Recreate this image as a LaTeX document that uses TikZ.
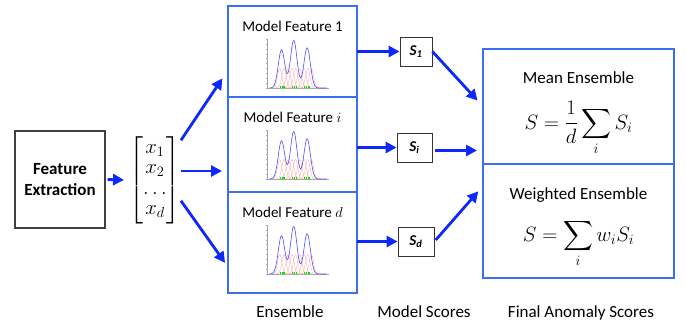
\documentclass[tikz,border=0pt]{standalone}
\usepackage{amsmath}
\usepackage{fontspec}
\setmainfont{Carlito}
\usepackage{tikz}
\usetikzlibrary{calc}
\usetikzlibrary{positioning}
\usetikzlibrary{arrows.meta}

\definecolor{flowblue}{RGB}{15,40,250}
\definecolor{boxblue}{RGB}{60,110,240}

\begin{document}
\begin{tikzpicture}[x=1pt, y=-1pt, >={Triangle[length=11pt,width=11pt]}]
\tikzset{
  flow/.style={flowblue, line width=2.8pt, ->},
  featbox/.style={draw=boxblue, line width=2pt, outer sep=0pt, inner sep=0pt, minimum width=129pt},
  finbox/.style={draw=boxblue, line width=2pt, outer sep=0pt, inner sep=0pt, minimum width=191pt},
  scorebox/.style={draw=black!80, line width=0.8pt, inner sep=0pt, minimum width=32pt, minimum height=29pt, font=\fontsize{15}{18}\selectfont\bfseries\itshape},
  lbl/.style={font=\fontsize{17}{20}\selectfont, anchor=base, inner sep=1pt},
  eq/.style={font=\fontsize{20}{24}\selectfont, anchor=base, inner sep=0pt},
}
\useasboundingbox (0,0) rectangle (686,327);

\node[draw=black!75, line width=1.2pt, minimum width=90pt, minimum height=97pt, align=center, font=\fontsize{17}{20.5}\selectfont\bfseries] (fe) at (60,179.5) {Feature\\Extraction};
\node[inner sep=0pt, font=\fontsize{20}{20.5}\selectfont] (vec) at (155,180) {$\begin{bmatrix}x_1\\x_2\\\ldots\\x_d\end{bmatrix}$};

% ensemble of models
\node[featbox, minimum height=91pt] (mf1) at (292.5,51.5) {};
\node[featbox, minimum height=95pt, below=0pt of mf1] (mf2) {};
\node[featbox, minimum height=101pt, below=0pt of mf2] (mf3) {};

\foreach \n / \t in {1/1, 2/$i$, 3/$d$} {
  \node[anchor=base, font=\fontsize{15}{18}\selectfont] (title\n) at ([yshift=-25.5pt]mf\n.north) {Model Feature \t};
  \begin{scope}[shift={($(mf\n.north)+(-25,82)$)}, x=61pt, y=49pt]
    \draw[black!35, line width=0.3pt] (0,1) -- (0,0) -- (1,0);
    \foreach \k in {0,0.1,...,1.01}
      \draw[black!35, line width=0.3pt] (\k,0) -- (\k,-0.03) (0,\k) -- (-0.03,\k);
    \foreach \c in {0.2,0.27,0.34,0.4,0.46,0.53,0.6,0.66,0.72} {
      \pgfmathsetmacro\lo{\c-0.15}
      \pgfmathsetmacro\hi{\c+0.15}
      \draw[red!30, line width=0.4pt, domain=\lo:\hi, samples=25, smooth] plot (\x, {0.4*exp(-((\x-\c)/0.05)^2)});
    }
    \draw[blue!70, line width=0.6pt, domain=0.03:0.97, samples=80, smooth] plot (\x, {0.78*exp(-((\x-0.23)/0.075)^2)+0.97*exp(-((\x-0.43)/0.075)^2)+0.82*exp(-((\x-0.65)/0.075)^2)});
    \foreach \g in {0.2,0.23,0.26,0.4,0.43,0.46,0.6,0.63,0.67}
      \fill[green!90!black] (\g,0.005) rectangle +(0.022,0.03);
  \end{scope}
}

\node[scorebox] (s1) at (416,51.5) {S\textsubscript{1}};
\node[scorebox, minimum width=35pt] (si) at (414.5,147.5) {S\textsubscript{i}};
\node[scorebox, minimum width=36pt] (sd) at (416,241.5) {S\textsubscript{d}};

% final scores
\node[finbox, minimum height=115pt] (fin1) at (578.5,106.5) {};
\node[finbox, minimum height=114pt, below=0pt of fin1] (fin2) {};
\node[lbl] (meanlbl) at ([yshift=-34pt]fin1.north) {Mean Ensemble};
\node[eq] (meaneq) at ([yshift=-80pt]fin1.north) {$\displaystyle S=\frac{1}{d}\sum_i S_i$};
\node[lbl] (wlbl) at ([yshift=-35pt]fin2.north) {Weighted Ensemble};
\node[eq] (weq) at ([yshift=-77pt]fin2.north) {$\displaystyle S=\sum_i w_i S_i$};

\node[lbl] (enslbl) at (290,317) {Ensemble};
\node[lbl] (mslbl) at (424,317) {Model Scores};
\node[lbl] (falbl) at (581,317) {Final Anomaly Scores};

% connectors
\draw[flow, shorten <=2pt, shorten >=5pt] (fe.east) -- (vec.west);
\coordinate (v2) at ([yshift=9pt]vec.east);
\draw[flow, shorten >=10pt] ([yshift=-4pt]vec.north east) -- ([yshift=27pt]mf1.south west);
\draw[flow, shorten >=6pt] (v2) -- (v2 -| mf2.west);
\draw[flow, shorten >=5pt] ([yshift=23pt]vec.south east) -- ([yshift=26pt]mf3.south west);

\draw[flow] (s1.west -| mf1.east) -- (s1.west);
\draw[flow] (si.west -| mf2.east) -- (si.west);
\draw[flow] (sd.west -| mf3.east) -- (sd.west);

\coordinate (si2) at ([yshift=-3pt]si.east);
\draw[flow, shorten >=8pt] (s1.east) -- (fin1.west);
\draw[flow, shorten <=3pt, shorten >=6pt] (si2) -- (si2 -| fin1.west);
\draw[flow, shorten <=2pt, shorten >=7pt] (sd.east) -- ([yshift=35pt]fin2.west);
\end{tikzpicture}
\end{document}
